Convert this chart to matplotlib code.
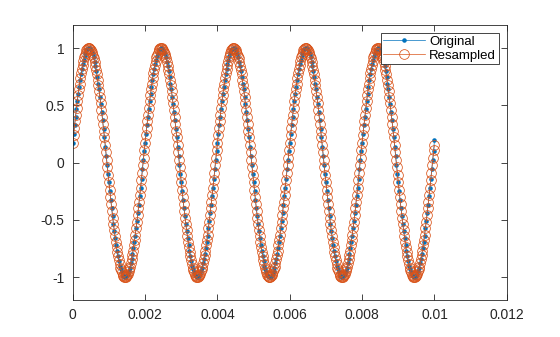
import numpy as np
import matplotlib
matplotlib.use("Agg")
import matplotlib.pyplot as plt
from matplotlib.ticker import FuncFormatter

# Sample rates (Hz)
fs_original = 40000
fs_resampled = 48000

# Original signal samples
original = [
    0.17, 0.25, 0.33, 0.40, 0.47, 0.54, 0.60, 0.66, 0.72, 0.77, 0.82, 0.86, 0.90, 0.93, 0.96, 0.98, 0.99, 1.00, 1.00, 1.00,
    0.98, 0.97, 0.95, 0.92, 0.88, 0.84, 0.80, 0.75, 0.69, 0.64, 0.57, 0.51, 0.44, 0.37, 0.29, 0.22, 0.14, 0.06, -0.02, -0.10,
    -0.17, -0.25, -0.33, -0.40, -0.47, -0.54, -0.60, -0.66, -0.72, -0.77, -0.82, -0.86, -0.90, -0.93, -0.96, -0.98, -0.99, -1.00, -1.00, -1.00,
    -0.98, -0.97, -0.95, -0.92, -0.88, -0.84, -0.80, -0.75, -0.69, -0.64, -0.57, -0.51, -0.44, -0.37, -0.29, -0.22, -0.14, -0.06, 0.02, 0.10,
    0.17, 0.25, 0.33, 0.40, 0.47, 0.54, 0.60, 0.66, 0.72, 0.77, 0.82, 0.86, 0.90, 0.93, 0.96, 0.98, 0.99, 1.00, 1.00, 1.00,
    0.98, 0.97, 0.95, 0.92, 0.88, 0.84, 0.80, 0.75, 0.69, 0.64, 0.57, 0.51, 0.44, 0.37, 0.29, 0.22, 0.14, 0.06, -0.02, -0.10,
    -0.17, -0.25, -0.33, -0.40, -0.47, -0.54, -0.60, -0.66, -0.72, -0.77, -0.82, -0.86, -0.90, -0.93, -0.96, -0.98, -0.99, -1.00, -1.00, -1.00,
    -0.98, -0.97, -0.95, -0.92, -0.88, -0.84, -0.80, -0.75, -0.69, -0.64, -0.57, -0.51, -0.44, -0.37, -0.29, -0.22, -0.14, -0.06, 0.02, 0.10,
    0.17, 0.25, 0.33, 0.40, 0.47, 0.54, 0.60, 0.66, 0.72, 0.77, 0.82, 0.86, 0.90, 0.93, 0.96, 0.98, 0.99, 1.00, 1.00, 1.00,
    0.98, 0.97, 0.95, 0.92, 0.88, 0.84, 0.80, 0.75, 0.69, 0.64, 0.57, 0.51, 0.44, 0.37, 0.29, 0.22, 0.14, 0.06, -0.02, -0.10,
    -0.17, -0.25, -0.33, -0.40, -0.47, -0.54, -0.60, -0.66, -0.72, -0.77, -0.82, -0.86, -0.90, -0.93, -0.96, -0.98, -0.99, -1.00, -1.00, -1.00,
    -0.98, -0.97, -0.95, -0.92, -0.88, -0.84, -0.80, -0.75, -0.69, -0.64, -0.57, -0.51, -0.44, -0.37, -0.29, -0.22, -0.14, -0.06, 0.02, 0.10,
    0.17, 0.25, 0.33, 0.40, 0.47, 0.54, 0.60, 0.66, 0.72, 0.77, 0.82, 0.86, 0.90, 0.93, 0.96, 0.98, 0.99, 1.00, 1.00, 1.00,
    0.98, 0.97, 0.95, 0.92, 0.88, 0.84, 0.80, 0.75, 0.69, 0.64, 0.57, 0.51, 0.44, 0.37, 0.29, 0.22, 0.14, 0.06, -0.02, -0.10,
    -0.17, -0.25, -0.33, -0.40, -0.47, -0.54, -0.60, -0.66, -0.72, -0.77, -0.82, -0.86, -0.90, -0.93, -0.96, -0.98, -0.99, -1.00, -1.00, -1.00,
    -0.98, -0.97, -0.95, -0.92, -0.88, -0.84, -0.80, -0.75, -0.69, -0.64, -0.57, -0.51, -0.44, -0.37, -0.29, -0.22, -0.14, -0.06, 0.02, 0.10,
    0.17, 0.25, 0.33, 0.40, 0.47, 0.54, 0.60, 0.66, 0.72, 0.77, 0.82, 0.86, 0.90, 0.93, 0.96, 0.98, 0.99, 1.00, 1.00, 1.00,
    0.98, 0.97, 0.95, 0.92, 0.88, 0.84, 0.80, 0.75, 0.69, 0.64, 0.57, 0.51, 0.44, 0.37, 0.29, 0.22, 0.14, 0.06, -0.02, -0.10,
    -0.17, -0.25, -0.33, -0.40, -0.47, -0.54, -0.60, -0.66, -0.72, -0.77, -0.82, -0.86, -0.90, -0.93, -0.96, -0.98, -0.99, -1.00, -1.00, -1.00,
    -0.98, -0.97, -0.95, -0.92, -0.88, -0.84, -0.80, -0.75, -0.69, -0.64, -0.57, -0.51, -0.44, -0.37, -0.29, -0.22, -0.14, -0.06, 0.02, 0.10,
    0.20,
]

# Resampled signal samples
resampled = [
    0.17, 0.24, 0.30, 0.36, 0.42, 0.48, 0.54, 0.59, 0.64, 0.69, 0.74, 0.78, 0.82, 0.85, 0.89, 0.92, 0.94, 0.96, 0.98, 0.99, 1.00, 1.00, 1.00, 0.99,
    0.98, 0.97, 0.95, 0.93, 0.91, 0.88, 0.84, 0.81, 0.77, 0.72, 0.68, 0.63, 0.57, 0.52, 0.46, 0.40, 0.34, 0.28, 0.22, 0.15, 0.09, 0.02, -0.04, -0.11,
    -0.17, -0.24, -0.30, -0.36, -0.42, -0.48, -0.54, -0.59, -0.64, -0.69, -0.74, -0.78, -0.82, -0.85, -0.89, -0.92, -0.94, -0.96, -0.98, -0.99, -1.00, -1.00, -1.00, -0.99,
    -0.98, -0.97, -0.95, -0.93, -0.91, -0.88, -0.84, -0.81, -0.77, -0.72, -0.68, -0.63, -0.57, -0.52, -0.46, -0.40, -0.34, -0.28, -0.22, -0.15, -0.09, -0.02, 0.04, 0.11,
    0.17, 0.24, 0.30, 0.36, 0.42, 0.48, 0.54, 0.59, 0.64, 0.69, 0.74, 0.78, 0.82, 0.85, 0.89, 0.92, 0.94, 0.96, 0.98, 0.99, 1.00, 1.00, 1.00, 0.99,
    0.98, 0.97, 0.95, 0.93, 0.91, 0.88, 0.84, 0.81, 0.77, 0.72, 0.68, 0.63, 0.57, 0.52, 0.46, 0.40, 0.34, 0.28, 0.22, 0.15, 0.09, 0.02, -0.04, -0.11,
    -0.17, -0.24, -0.30, -0.36, -0.42, -0.48, -0.54, -0.59, -0.64, -0.69, -0.74, -0.78, -0.82, -0.85, -0.89, -0.92, -0.94, -0.96, -0.98, -0.99, -1.00, -1.00, -1.00, -0.99,
    -0.98, -0.97, -0.95, -0.93, -0.91, -0.88, -0.84, -0.81, -0.77, -0.72, -0.68, -0.63, -0.57, -0.52, -0.46, -0.40, -0.34, -0.28, -0.22, -0.15, -0.09, -0.02, 0.04, 0.11,
    0.17, 0.24, 0.30, 0.36, 0.42, 0.48, 0.54, 0.59, 0.64, 0.69, 0.74, 0.78, 0.82, 0.85, 0.89, 0.92, 0.94, 0.96, 0.98, 0.99, 1.00, 1.00, 1.00, 0.99,
    0.98, 0.97, 0.95, 0.93, 0.91, 0.88, 0.84, 0.81, 0.77, 0.72, 0.68, 0.63, 0.57, 0.52, 0.46, 0.40, 0.34, 0.28, 0.22, 0.15, 0.09, 0.02, -0.04, -0.11,
    -0.17, -0.24, -0.30, -0.36, -0.42, -0.48, -0.54, -0.59, -0.64, -0.69, -0.74, -0.78, -0.82, -0.85, -0.89, -0.92, -0.94, -0.96, -0.98, -0.99, -1.00, -1.00, -1.00, -0.99,
    -0.98, -0.97, -0.95, -0.93, -0.91, -0.88, -0.84, -0.81, -0.77, -0.72, -0.68, -0.63, -0.57, -0.52, -0.46, -0.40, -0.34, -0.28, -0.22, -0.15, -0.09, -0.02, 0.04, 0.11,
    0.17, 0.24, 0.30, 0.36, 0.42, 0.48, 0.54, 0.59, 0.64, 0.69, 0.74, 0.78, 0.82, 0.85, 0.89, 0.92, 0.94, 0.96, 0.98, 0.99, 1.00, 1.00, 1.00, 0.99,
    0.98, 0.97, 0.95, 0.93, 0.91, 0.88, 0.84, 0.81, 0.77, 0.72, 0.68, 0.63, 0.57, 0.52, 0.46, 0.40, 0.34, 0.28, 0.22, 0.15, 0.09, 0.02, -0.04, -0.11,
    -0.17, -0.24, -0.30, -0.36, -0.42, -0.48, -0.54, -0.59, -0.64, -0.69, -0.74, -0.78, -0.82, -0.85, -0.89, -0.92, -0.94, -0.96, -0.98, -0.99, -1.00, -1.00, -1.00, -0.99,
    -0.98, -0.97, -0.95, -0.93, -0.91, -0.88, -0.84, -0.81, -0.77, -0.72, -0.68, -0.63, -0.57, -0.52, -0.46, -0.40, -0.34, -0.28, -0.22, -0.15, -0.09, -0.02, 0.04, 0.11,
    0.17, 0.24, 0.30, 0.36, 0.42, 0.48, 0.54, 0.59, 0.64, 0.69, 0.74, 0.78, 0.82, 0.85, 0.89, 0.92, 0.94, 0.96, 0.98, 0.99, 1.00, 1.00, 1.00, 0.99,
    0.98, 0.97, 0.95, 0.93, 0.91, 0.88, 0.84, 0.81, 0.77, 0.72, 0.68, 0.63, 0.57, 0.52, 0.46, 0.40, 0.34, 0.28, 0.22, 0.15, 0.09, 0.02, -0.04, -0.11,
    -0.17, -0.24, -0.30, -0.36, -0.42, -0.48, -0.54, -0.59, -0.64, -0.69, -0.74, -0.78, -0.82, -0.85, -0.89, -0.92, -0.94, -0.96, -0.98, -0.99, -1.00, -1.00, -1.00, -0.99,
    -0.98, -0.97, -0.95, -0.93, -0.91, -0.88, -0.84, -0.81, -0.77, -0.72, -0.68, -0.63, -0.57, -0.52, -0.46, -0.40, -0.34, -0.28, -0.22, -0.15, -0.09, -0.02, 0.04, 0.11,
    0.15,
]

xticks = [0, 0.002, 0.004, 0.006, 0.008, 0.01, 0.012]
yticks = [-1, -0.5, 0, 0.5, 1]
labels = ["Original", "Resampled"]

t_original = np.arange(len(original)) / fs_original
t_resampled = np.arange(len(resampled)) / fs_resampled

plt.rcParams['font.family'] = ['Liberation Sans', 'DejaVu Sans']

blue = "#0072BD"
orange = "#D95319"
axcol = "#262626"

fig = plt.figure(figsize=(5.6, 3.37), dpi=100)
ax = fig.add_axes([0.13, 0.11, 0.775, 0.815])

ax.plot(t_original, original, '.-', color=blue, lw=0.5, markersize=4.5, label=labels[0])
ax.plot(t_resampled, resampled, 'o-', color=orange, lw=0.5, markersize=7,
        markerfacecolor='none', markeredgewidth=0.55, label=labels[1])

ax.set_xlim(0, 0.012)
ax.set_ylim(-1.2, 1.2)
ax.set_xticks(xticks)
ax.set_yticks(yticks)
ax.xaxis.set_major_formatter(FuncFormatter(lambda v, p: f"{v:g}"))
ax.yaxis.set_major_formatter(FuncFormatter(lambda v, p: f"{v:g}"))

ax.tick_params(direction='in', length=4, width=0.6, colors=axcol, labelsize=10,
               top=True, right=True, pad=6)
for s in ax.spines.values():
    s.set_color(axcol)
    s.set_linewidth(0.6)

leg = ax.legend(loc='upper right', fontsize=9.5, frameon=True, fancybox=False,
                edgecolor=axcol, framealpha=1, borderpad=0.2, handlelength=3.2,
                handletextpad=0.3, labelspacing=0.1, borderaxespad=0.6)
leg.get_frame().set_linewidth(0.6)

fig.savefig("out.png", dpi=100)
